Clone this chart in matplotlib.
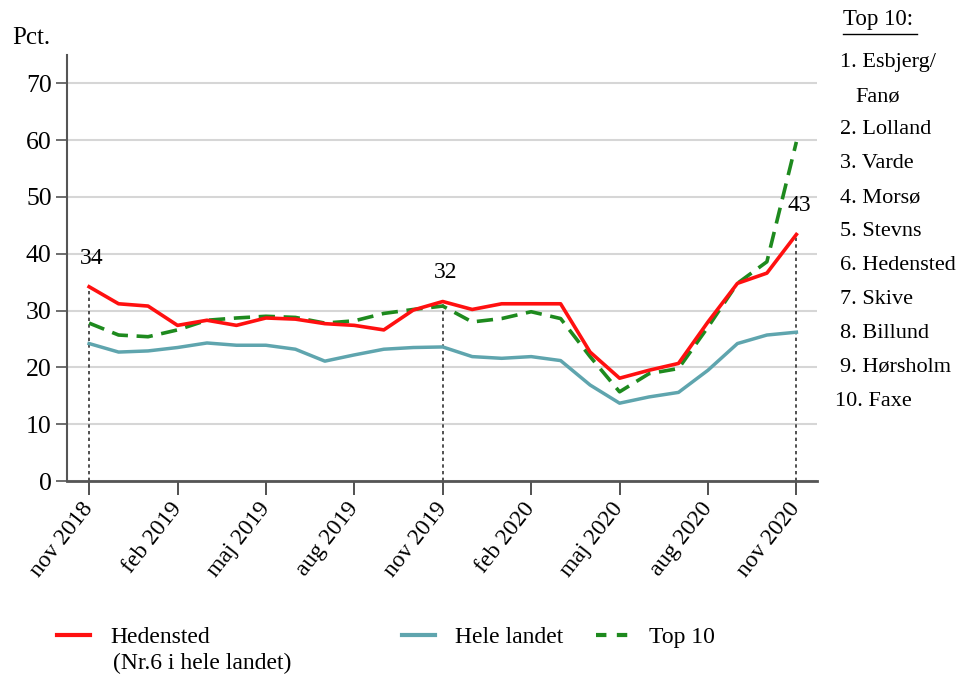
import numpy as np
import matplotlib
matplotlib.use("Agg")
import matplotlib.pyplot as plt
from matplotlib.lines import Line2D
from matplotlib.transforms import ScaledTranslation

plt.rcParams['font.family'] = ['Liberation Serif', 'DejaVu Serif']

months = np.arange(25)
tick_pos = [0, 3, 6, 9, 12, 15, 18, 21, 24]
tick_labels = ["nov 2018", "feb 2019", "maj 2019", "aug 2019", "nov 2019",
               "feb 2020", "maj 2020", "aug 2020", "nov 2020"]

hedensted = [34.2, 31.2, 30.8, 27.4, 28.3, 27.4, 28.7, 28.5, 27.7, 27.4, 26.6, 30.1,
             31.6, 30.2, 31.2, 31.2, 31.2, 22.7, 18.1, 19.5, 20.7, 28.0, 34.8, 36.6, 43.4]
hele_landet = [24.2, 22.7, 22.9, 23.5, 24.3, 23.9, 23.9, 23.2, 21.1, 22.2, 23.2, 23.5,
               23.6, 21.9, 21.6, 21.9, 21.2, 16.9, 13.7, 14.8, 15.6, 19.5, 24.2, 25.7, 26.2]
top10 = [27.8, 25.7, 25.4, 26.6, 28.3, 28.7, 29.0, 28.8, 27.8, 28.2, 29.5, 30.2,
         30.8, 28.0, 28.6, 29.8, 28.6, 21.9, 15.7, 18.9, 19.8, 27.1, 34.8, 38.6, 59.7]

marked = [0, 12, 24]
marked_labels = ["34", "32", "43"]

top10_list = ["1. Esbjerg/", "Fanø", "2. Lolland", "3. Varde", "4. Morsø", "5. Stevns",
              "6. Hedensted", "7. Skive", "8. Billund", "9. Hørsholm", "10. Faxe"]

RED = '#FF1010'
TEAL = '#5FA5AE'
GREEN = '#1E8A1E'

fig = plt.figure(figsize=(9.63, 6.84), dpi=100)
ax = fig.add_axes([67/963, 1-481/684, (817-67)/963, (481-55)/684])

ax.set_xlim(-0.75, 24.7)
ax.set_ylim(0, 75)
ax.set_yticks(range(0, 80, 10))
ax.yaxis.grid(True, color='#D6D6D6', lw=1.5)
ax.set_axisbelow(True)

for s in ['top', 'right']:
    ax.spines[s].set_visible(False)
ax.spines['left'].set_color('#555555')
ax.spines['left'].set_linewidth(1.5)
ax.spines['bottom'].set_color('#555555')
ax.spines['bottom'].set_linewidth(2.0)

# dotted verticals
for i in marked:
    ax.vlines(i, 0, hedensted[i], colors='#333333', linestyles=(0, (2, 2)), lw=1.2, zorder=1)

ax.plot(months, hele_landet, color=TEAL, lw=2.5, zorder=3)
ax.plot(months, top10, color=GREEN, lw=2.6, dashes=(4.5, 2.4), zorder=4)
ax.plot(months, hedensted, color=RED, lw=2.6, zorder=5)

for i, lab in zip(marked, marked_labels):
    ax.annotate(lab, (i, hedensted[i]), xytext=(2, 13), textcoords='offset points',
                ha='center', va='bottom', fontsize=17)

ax.set_xticks(tick_pos)
ax.set_xticklabels(tick_labels, rotation=52, ha='right', va='center',
                   rotation_mode='anchor', fontsize=17)
off = ScaledTranslation(4/100, 0, fig.dpi_scale_trans)
for lbl in ax.get_xticklabels():
    lbl.set_transform(lbl.get_transform() + off)
ax.tick_params(axis='x', length=10, width=1.2, color='#333333', pad=7)
ax.tick_params(axis='y', length=8, width=1.2, color='#555555', labelsize=18.5, pad=3)

fig.text(12/963, 1-38/684, "Pct.", fontsize=18, ha='left', va='center')

# Top 10 list
fig.text(843/963, 1-20/684, "Top 10:", fontsize=16.5, ha='left', va='center')
fig.add_artist(Line2D([843/963, 917/963], [1-34/684, 1-34/684], color='black', lw=1))
ys = [63, 97, 130, 164, 198, 232, 266, 300, 334, 367, 401]
for txt, y in zip(top10_list, ys):
    if txt == "Fanø":
        x = 855
    elif txt.startswith("10"):
        x = 835
    else:
        x = 840
    fig.text(x/963, 1-y/684, txt, fontsize=16, ha='left', va='center')

# Legend
ly = 1-637/684
def leg(handle, label, x):
    fig.legend([handle], [label], loc='center left', bbox_to_anchor=(x, ly),
               frameon=False, fontsize=17, handlelength=1.4, handletextpad=0.85,
               borderpad=0, borderaxespad=0)

leg(Line2D([], [], color=RED, lw=3), "Hedensted", 57/963)
leg(Line2D([], [], color=TEAL, lw=3), "Hele landet", 402/963)
leg(Line2D([], [], color=GREEN, lw=3, dashes=(2.5, 2.5)), "Top 10", 596/963)
fig.text(113/963, 1-663/684, "(Nr.6 i hele landet)", fontsize=17, ha='left', va='center')

fig.savefig("out.png", dpi=100)
